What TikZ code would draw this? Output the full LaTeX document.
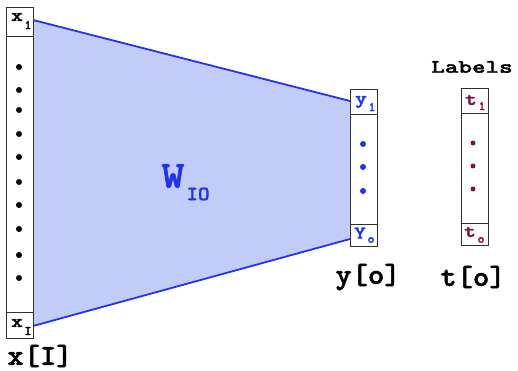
\documentclass[tikz,border=0pt]{standalone}
\usepackage{fontspec}
\newfontfamily\courf{lmmonolt10-bold}[Extension=.otf, FakeBold=1.6]
\definecolor{wblue}{HTML}{2233EE}
\definecolor{wfill}{HTML}{C2CCF8}
\definecolor{tpurp}{HTML}{80104A}
\definecolor{boxc}{HTML}{303030}
\newcommand{\mfont}[1]{\courf\fontsize{#1}{#1}\selectfont}
\tikzset{
  col/.style={draw=boxc, line width=0.9pt, fill=white, minimum width=27pt, inner sep=0pt, anchor=north west},
  cell/.style={draw=boxc, line width=0.9pt, minimum width=27pt, inner sep=0pt, anchor=north west},
  big/.style={font=\mfont{29}, inner sep=0pt, transform shape, xscale=1.07},
  lab/.style={font=\mfont{19}, inner sep=0pt, transform shape, xscale=1.36},
  cl/.style={font=\mfont{18}, inner sep=0pt, transform shape, xscale=1.25},
  sub/.style={font=\mfont{13}, inner sep=0pt},
  dotb/.style={circle, fill=black, inner sep=0pt, minimum size=6pt},
  wedge/.style={wblue, line width=1.8pt},
}
\begin{document}
\begin{tikzpicture}[x=1pt,y=-1pt]
\useasboundingbox (0,0) rectangle (518,371);
% wedge
\coordinate (a1) at (33,20);
\coordinate (a2) at (350,101);
\coordinate (a3) at (350,239);
\coordinate (a4) at (33,326);
\fill[wfill] (a1) -- (a2) -- (a3) -- (a4) -- cycle;
\draw[wedge] (a1) -- (a2);
\draw[wedge] (a4) -- (a3);
% left column
\node[col, minimum height=331pt] (xcol) at (6,7) {};
\node[cell, minimum height=29pt] (x1) at (6,7) {};
\node[cell, minimum height=26pt] (xI) at (6,312) {};
\node[cl] (x1t) at (17,17) {x};
\node[sub] (x1s) at (28,25) {1};
\node[cl] (xIt) at (17,323) {x};
\node[sub] (xIs) at (28,331) {I};
\foreach \i/\y in {1/67,2/90,3/110,4/134,5/157,6/182,7/205,8/229,9/255,10/278}
  \node[dotb] (xd\i) at (19,\y) {};
% middle column
\node[col, minimum height=157pt] (ycol) at (350,89) {};
\node[cell, minimum height=25pt] (y1) at (350,89) {};
\node[cell, minimum height=22pt] (yO) at (350,224) {};
\node[cl, wblue] (y1t) at (361,102) {y};
\node[sub, wblue] (y1s) at (372,107) {1};
\node[cl, wblue] (yOt) at (360,233) {Y};
\node[sub, wblue] (yOs) at (371,240) {o};
\foreach \i/\y in {1/144,2/167,3/191}
  \node[dotb, fill=wblue] (yd\i) at (363,\y) {};
% right column
\node[col, minimum height=157pt] (tcol) at (461,88) {};
\node[cell, minimum height=25pt] (t1) at (461,88) {};
\node[cell, minimum height=22pt] (tO) at (461,223) {};
\node[cl, tpurp] (t1t) at (471,100) {t};
\node[sub, tpurp] (t1s) at (482,106) {1};
\node[cl, tpurp] (tOt) at (470,232) {t};
\node[sub, tpurp] (tOs) at (481,240) {o};
\foreach \i/\y in {1/143,2/166,3/189}
  \node[dotb, fill=tpurp, minimum size=5pt] (td\i) at (473,\y) {};
% labels
\node[lab] (labels) at (472,67) {Labels};
\node[big] (xlab) at (40,356) {x[I]};
\node[big] (ylab) at (368,277) {y[o]};
\node[big] (tlab) at (473,277) {t[o]};
% W_IO
\node[font=\mfont{38}, text=wblue, inner sep=0pt, transform shape, xscale=1.15] (W) at (173,176) {W};
\node[font=\mfont{20}, text=wblue, inner sep=0pt, transform shape, xscale=1.1] (IO) at (198,194) {IO};
\end{tikzpicture}
\end{document}
